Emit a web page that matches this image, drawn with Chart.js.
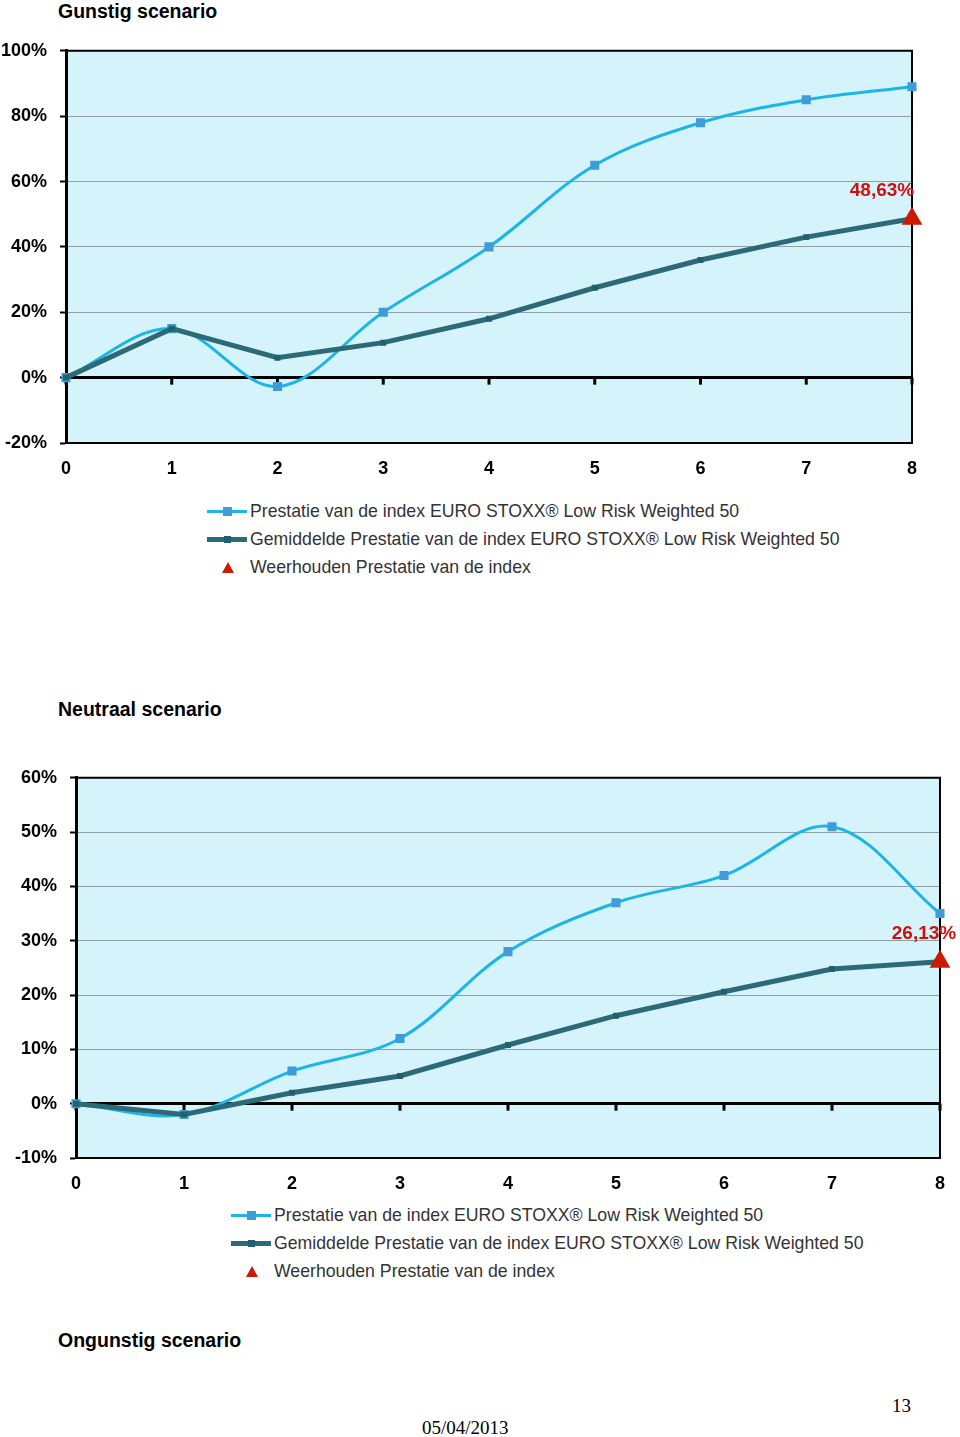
<!DOCTYPE html>
<html>
<head>
<meta charset="utf-8">
<script src="https://cdn.jsdelivr.net/npm/chart.js@4.4.1/dist/chart.umd.min.js"></script>
<style>
  body { margin: 0; background: #fff; font-family: "Liberation Sans", Arial, sans-serif; }
  #page { position: relative; width: 960px; height: 1437px; overflow: hidden; }
  .titel { position: absolute; left: 58px; font-weight: bold; font-size: 19.5px; color: #000; }
  .box { position: absolute; }
  .legenda { position: absolute; font-size: 17.7px; color: #333; }
  .item { position: relative; height: 28px; line-height: 28px; padding-left: 43px; white-space: nowrap; }
  .lijn { position: absolute; left: 0; top: 13px; width: 40px; }
  .blok { position: absolute; left: 16px; }
  .drie { position: absolute; left: 15px; top: 9px; width: 0; height: 0;
          border-left: 6px solid transparent; border-right: 6px solid transparent; border-bottom: 11px solid #cc1a00; }
  .voet { position: absolute; font-family: "Liberation Serif", "Times New Roman", serif; font-size: 19px; color: #000; }
</style>
</head>
<body>
<div id="page">
  <div class="titel" style="top:0px">Gunstig scenario</div>
  <div class="box" style="left:0;top:27px"><canvas id="grafiekGunstig" width="960" height="463"></canvas></div>
  <div class="legenda" id="legendaGunstig" style="left:207px;top:497px"></div>

  <div class="titel" style="top:698px">Neutraal scenario</div>
  <div class="box" style="left:0;top:754px"><canvas id="grafiekNeutraal" width="960" height="446"></canvas></div>
  <div class="legenda" id="legendaNeutraal" style="left:231px;top:1201px"></div>

  <div class="titel" style="top:1329px">Ongunstig scenario</div>
  <div class="voet" style="left:422px;top:1417px">05/04/2013</div>
  <div class="voet" style="left:892px;top:1395px">13</div>
</div>
<script>
const jaren = ['0', '1', '2', '3', '4', '5', '6', '7', '8'];
const reeksNamen = [
  'Prestatie van de index EURO STOXX\u00AE Low Risk Weighted 50',
  'Gemiddelde Prestatie van de index EURO STOXX\u00AE Low Risk Weighted 50',
  'Weerhouden Prestatie van de index'
];

// gunstig scenario
const gunstigIndex = [0, 15, -2.7, 20, 40, 65, 78, 85, 89];
const gunstigGemiddeld = [0, 15, 6.1, 10.7, 18, 27.5, 36, 43, 48.63];
const gunstigWeerhouden = 48.63;
const gunstigTicks = [-20, 0, 20, 40, 60, 80, 100];

// neutraal scenario
const neutraalIndex = [0, -2, 6, 12, 28, 37, 42, 51, 35];
const neutraalGemiddeld = [0, -2, 2, 5.1, 10.8, 16.2, 20.6, 24.8, 26.13];
const neutraalWeerhouden = 26.13;
const neutraalTicks = [-10, 0, 10, 20, 30, 40, 50, 60];

const kleurIndex = '#1db5e8';
const kleurIndexPunt = '#3f9cd6';
const kleurGem = '#2c6a77';
const kleurGemPunt = '#24606c';
const kleurRood = '#cc1a00';

const kaderPlugin = {
  id: 'kader',
  beforeDraw(chart) {
    const { ctx, chartArea: a } = chart;
    ctx.save();
    ctx.fillStyle = '#d5f3fb';
    ctx.fillRect(a.left, a.top, a.right - a.left, a.bottom - a.top);
    ctx.restore();
  },
  beforeDatasetsDraw(chart) {
    const { ctx, chartArea: a, scales } = chart;
    ctx.save();
    ctx.strokeStyle = '#000';
    ctx.lineWidth = 2;
    ctx.beginPath();
    ctx.moveTo(a.left, a.top);
    ctx.lineTo(a.right, a.top);
    ctx.lineTo(a.right, a.bottom);
    ctx.lineTo(a.left, a.bottom);
    ctx.stroke();
    // streepjes op de nul-as
    const y0 = scales.y.getPixelForValue(0);
    ctx.lineWidth = 3;
    jaren.forEach((j, i) => {
      const x = scales.x.getPixelForValue(i);
      ctx.beginPath();
      ctx.moveTo(x, y0);
      ctx.lineTo(x, y0 + 7);
      ctx.stroke();
    });
    ctx.restore();
  },
  afterDatasetsDraw(chart) {
    const opt = chart.options.plugins.kader;
    const meta = chart.getDatasetMeta(2);
    const p = meta.data[jaren.length - 1];
    if (!p) return;
    const { ctx } = chart;
    ctx.save();
    ctx.fillStyle = '#d00f0f';
    ctx.font = 'bold 19px "Liberation Sans", Arial, sans-serif';
    ctx.textAlign = 'center';
    ctx.textBaseline = 'middle';
    ctx.fillText(opt.waarde.toFixed(2).replace('.', ',') + '%', p.x + opt.dx, p.y - 28);
    ctx.restore();
  }
};

function maakGrafiek(id, index, gem, weerhouden, ticks, pad, links, onder, dx) {
  const laatste = jaren.map((j, i) => i === jaren.length - 1 ? weerhouden : null);
  return new Chart(document.getElementById(id), {
    type: 'line',
    data: {
      labels: jaren,
      datasets: [
        { label: reeksNamen[0], data: index, borderColor: kleurIndex, borderWidth: 3,
          pointStyle: 'rect', pointRadius: 6.4, pointBackgroundColor: kleurIndexPunt,
          pointBorderWidth: 0, tension: 0.35, order: 2 },
        { label: reeksNamen[1], data: gem, borderColor: kleurGem, borderWidth: 5,
          pointStyle: 'rect', pointRadius: 4.2, pointBackgroundColor: kleurGemPunt,
          pointBorderWidth: 0, tension: 0, order: 1 },
        { label: reeksNamen[2], data: laatste, showLine: false, pointStyle: 'triangle',
          pointRadius: 12, pointBackgroundColor: kleurRood, pointBorderWidth: 0, order: 0 }
      ]
    },
    options: {
      responsive: false,
      devicePixelRatio: 1,
      animation: false,
      layout: { padding: pad },
      plugins: {
        legend: { display: false },
        tooltip: { enabled: false },
        kader: { waarde: weerhouden, dx: dx }
      },
      scales: {
        x: {
          offset: false,
          grid: { display: false, drawTicks: false },
          border: { display: false },
          ticks: { color: '#000', padding: 15, maxRotation: 0,
                   font: { family: '"Liberation Sans", Arial, sans-serif', size: 18, weight: 'bold' } },
          afterFit(s) { s.height = onder; }
        },
        y: {
          min: ticks[0], max: ticks[ticks.length - 1],
          afterBuildTicks(s) { s.ticks = ticks.map(v => ({ value: v })); },
          border: { display: true, color: '#000', width: 3 },
          grid: {
            color: c => c.tick && c.tick.value === 0 ? '#000' : '#8fa1a6',
            lineWidth: c => c.tick && c.tick.value === 0 ? 3 : 1,
            tickColor: '#000', tickLength: 6, tickWidth: 2
          },
          ticks: { color: '#000', padding: 13, callback: v => v + '%',
                   font: { family: '"Liberation Sans", Arial, sans-serif', size: 18, weight: 'bold' } },
          afterFit(s) { s.width = links; }
        }
      }
    },
    plugins: [kaderPlugin]
  });
}

maakGrafiek('grafiekGunstig', gunstigIndex, gunstigGemiddeld, gunstigWeerhouden, gunstigTicks,
  { top: 0, right: 48, bottom: 0, left: 0 }, 66, 47, -30);
maakGrafiek('grafiekNeutraal', neutraalIndex, neutraalGemiddeld, neutraalWeerhouden, neutraalTicks,
  { top: 0, right: 20, bottom: 0, left: 0 }, 76, 42, -16);

function maakLegenda(id) {
  const el = document.getElementById(id);
  const stalen = [
    `<div class="lijn" style="height:3px;background:${kleurIndex}"></div><div class="blok" style="top:10px;width:9px;height:9px;background:${kleurIndexPunt}"></div>`,
    `<div class="lijn" style="height:5px;top:12px;background:${kleurGem}"></div><div class="blok" style="left:17px;top:11px;width:7px;height:7px;background:${kleurGemPunt}"></div>`,
    `<div class="drie"></div>`
  ];
  el.innerHTML = reeksNamen.map((n, i) => `<div class="item">${stalen[i]}${n}</div>`).join('');
}
maakLegenda('legendaGunstig');
maakLegenda('legendaNeutraal');
</script>
</body>
</html>
